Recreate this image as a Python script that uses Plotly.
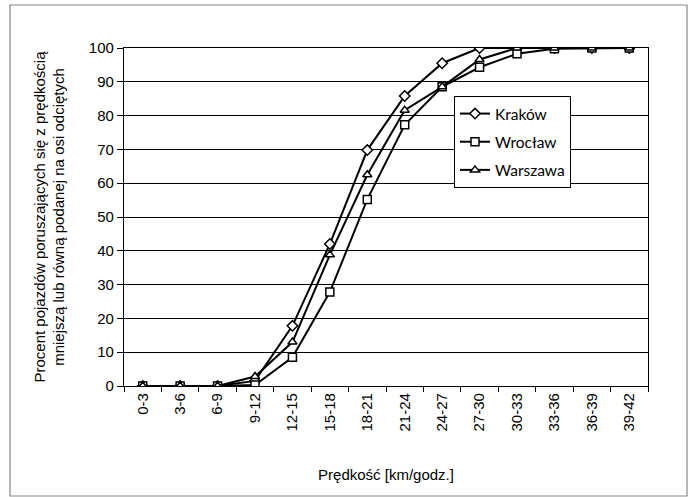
import plotly.graph_objects as go

categories = ["0-3", "3-6", "6-9", "9-12", "12-15", "15-18", "18-21", "21-24",
              "24-27", "27-30", "30-33", "33-36", "36-39", "39-42"]
krakow = [0, 0, 0, 1.5, 17.8, 42, 69.8, 85.8, 95.5, 100, 100, 100, 100, 100]
wroclaw = [0, 0, 0, 0.3, 8.5, 27.8, 55.2, 77.3, 88.5, 94.3, 98.3, 99.8, 100, 100]
warszawa = [0, 0, 0, 2.8, 13, 38.8, 62.5, 81.6, 88.5, 96.6, 100, 100, 100, 100]
yticks = [0, 10, 20, 30, 40, 50, 60, 70, 80, 90, 100]

FONT = "Liberation Sans"
LEGFONT = "Lato"

fig = go.Figure()
series = [("Kraków", krakow, "diamond"), ("Wrocław", wroclaw, "square"),
          ("Warszawa", warszawa, "triangle-up")]
for name, vals, sym in series:
    fig.add_trace(go.Scatter(
        x=categories, y=vals, name=name, legendgroup=name, mode="lines+markers",
        line=dict(color="black", width=2),
        marker=dict(symbol=sym, size=8, color="white",
                    line=dict(color="black", width=1.5)),
    ))

L, R, T, B = 124, 48, 48, 111
W, H = 696, 497
pw, ph = W - L - R, H - T - B

def px(x):
    return (x - L) / pw

def py(y):
    return (H - B - y) / ph

fig.update_layout(
    width=W, height=H,
    margin=dict(l=L, r=R, t=T, b=B),
    paper_bgcolor="white", plot_bgcolor="white",
    font=dict(family=FONT, size=15, color="black"),
    showlegend=True,
    legend=dict(x=px(454), y=py(96), xanchor="left", yanchor="top",
                bgcolor="white", bordercolor="black", borderwidth=1,
                font=dict(family=LEGFONT, size=15.5), tracegroupgap=5,
                traceorder="grouped", itemwidth=30),
    xaxis=dict(
        type="category", range=[-0.5, 13.5], tickson="boundaries",
        ticks="outside", ticklen=5, tickcolor="black", tickwidth=1.3,
        tickangle=-90, showline=True, linecolor="black", linewidth=1.3,
        mirror=True, showgrid=False,
        title=dict(text="Prędkość [km/godz.]", font=dict(size=15), standoff=38),
        tickfont=dict(size=15),
    ),
    yaxis=dict(
        range=[0, 100], tickvals=yticks, ticks="outside", ticklen=6,
        tickcolor="black", tickwidth=1.3, showline=True, linecolor="black",
        linewidth=1.3, mirror=True, showgrid=True, gridcolor="black",
        gridwidth=1.3, zeroline=False,
        title=dict(text="Procent pojazdów poruszających się z prędkością<br>"
                        "mniejszą lub równą podanej na osi odciętych",
                   font=dict(size=15), standoff=20),
        tickfont=dict(size=15),
    ),
    shapes=[dict(type="rect", xref="paper", yref="paper",
                 x0=px(10), x1=px(687), y0=py(496), y1=py(5),
                 line=dict(color="#888888", width=1.2), layer="below")],
)

fig.write_html("out.html")
